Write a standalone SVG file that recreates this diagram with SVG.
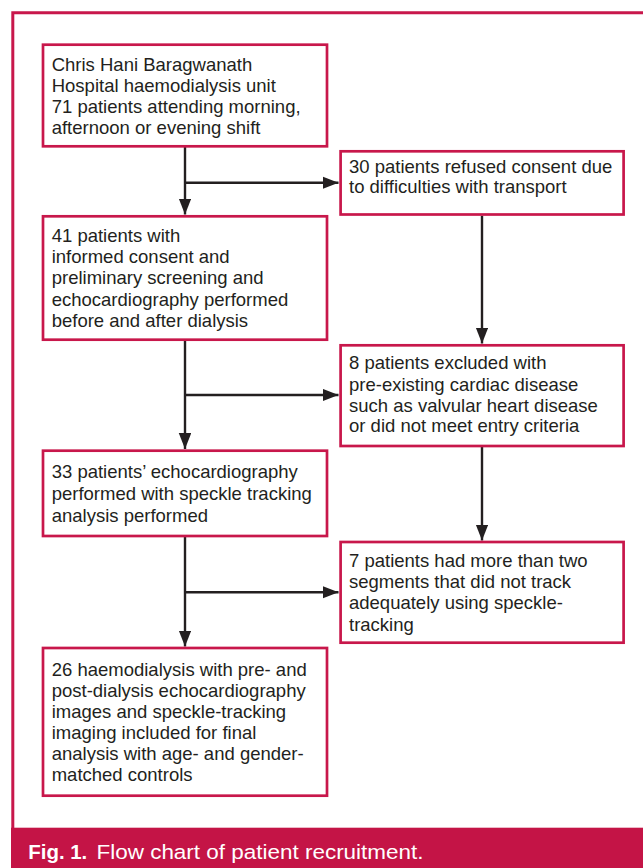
<svg xmlns="http://www.w3.org/2000/svg" width="643" height="868" viewBox="0 0 643 868">
<style>
.box{fill:#fff;stroke:#c8174b;stroke-width:2.7}
.t{font-family:"Liberation Sans",Arial,sans-serif;font-size:18.5px;fill:#231f20}
.c{stroke:#231f20;stroke-width:2.4;fill:none}
.cap{font-family:"Liberation Sans",Arial,sans-serif;font-size:20.5px;fill:#fff}
</style>
<defs>
<marker id="ah" markerUnits="userSpaceOnUse" markerWidth="16" markerHeight="13" refX="16" refY="6.25" orient="auto">
<path d="M0,0 L16,6.25 L0,12.5 z" fill="#231f20"/>
</marker>
</defs>
<rect x="0" y="0" width="643" height="868" fill="#fff"/>
<path d="M643 12.8 H12.8 V828" fill="none" stroke="#c8174b" stroke-width="3"/>
<rect x="11" y="827.7" width="632" height="40.3" fill="#c41446"/>
<text class="cap" x="28.3" y="859" font-weight="bold" textLength="59" lengthAdjust="spacingAndGlyphs">Fig. 1.</text>
<text class="cap" x="96.5" y="859" textLength="327" lengthAdjust="spacingAndGlyphs">Flow chart of patient recruitment.</text>

<g id="connectors">
<path class="c" d="M185 147 V214.5" marker-end="url(#ah)"/>
<path class="c" d="M185 182.7 H338.5" marker-end="url(#ah)"/>
<path class="c" d="M482 215.7 V343.5" marker-end="url(#ah)"/>
<path class="c" d="M185 341 V449" marker-end="url(#ah)"/>
<path class="c" d="M185 395 H338.5" marker-end="url(#ah)"/>
<path class="c" d="M482 447 V540.5" marker-end="url(#ah)"/>
<path class="c" d="M185 537 V646.5" marker-end="url(#ah)"/>
<path class="c" d="M185 592.3 H338.5" marker-end="url(#ah)"/>
</g>

<g id="n1">
<rect class="box" x="43" y="44.7" width="284" height="101.6"/>
<text class="t" x="51.7" y="71">Chris Hani Baragwanath</text>
<text class="t" x="51.7" y="92">Hospital haemodialysis unit</text>
<text class="t" x="51.7" y="113">71 patients attending morning,</text>
<text class="t" x="51.7" y="134">afternoon or evening shift</text>
</g>
<g id="n2">
<rect class="box" x="340.6" y="151.3" width="283" height="63.2"/>
<text class="t" x="349" y="172.7">30 patients refused consent due</text>
<text class="t" x="349" y="193.3">to difficulties with transport</text>
</g>
<g id="n3">
<rect class="box" x="43" y="216.3" width="284" height="123.4"/>
<text class="t" x="51.7" y="241.5">41 patients with</text>
<text class="t" x="51.7" y="262.9">informed consent and</text>
<text class="t" x="51.7" y="284.3">preliminary screening and</text>
<text class="t" x="51.7" y="305.7">echocardiography performed</text>
<text class="t" x="51.7" y="327.1">before and after dialysis</text>
</g>
<g id="n4">
<rect class="box" x="340.6" y="345.3" width="283" height="100.7"/>
<text class="t" x="349" y="369.3">8 patients excluded with</text>
<text class="t" x="349" y="390.5">pre-existing cardiac disease</text>
<text class="t" x="349" y="411.5">such as valvular heart disease</text>
<text class="t" x="349" y="432.3">or did not meet entry criteria</text>
</g>
<g id="n5">
<rect class="box" x="43" y="450.7" width="284" height="85.3"/>
<text class="t" x="51.7" y="478.3">33 patients’ echocardiography</text>
<text class="t" x="51.7" y="500">performed with speckle tracking</text>
<text class="t" x="51.7" y="521.7">analysis performed</text>
</g>
<g id="n6">
<rect class="box" x="340.6" y="542" width="283" height="100.7"/>
<text class="t" x="349" y="566.7">7 patients had more than two</text>
<text class="t" x="349" y="588">segments that did not track</text>
<text class="t" x="349" y="609.3">adequately using speckle-</text>
<text class="t" x="349" y="630.7">tracking</text>
</g>
<g id="n7">
<rect class="box" x="43" y="648" width="284" height="147.7"/>
<text class="t" x="51.7" y="675.5">26 haemodialysis with pre- and</text>
<text class="t" x="51.7" y="696.6">post-dialysis echocardiography</text>
<text class="t" x="51.7" y="717.7">images and speckle-tracking</text>
<text class="t" x="51.7" y="738.8">imaging included for final</text>
<text class="t" x="51.7" y="759.9">analysis with age- and gender-</text>
<text class="t" x="51.7" y="781">matched controls</text>
</g>
</svg>
